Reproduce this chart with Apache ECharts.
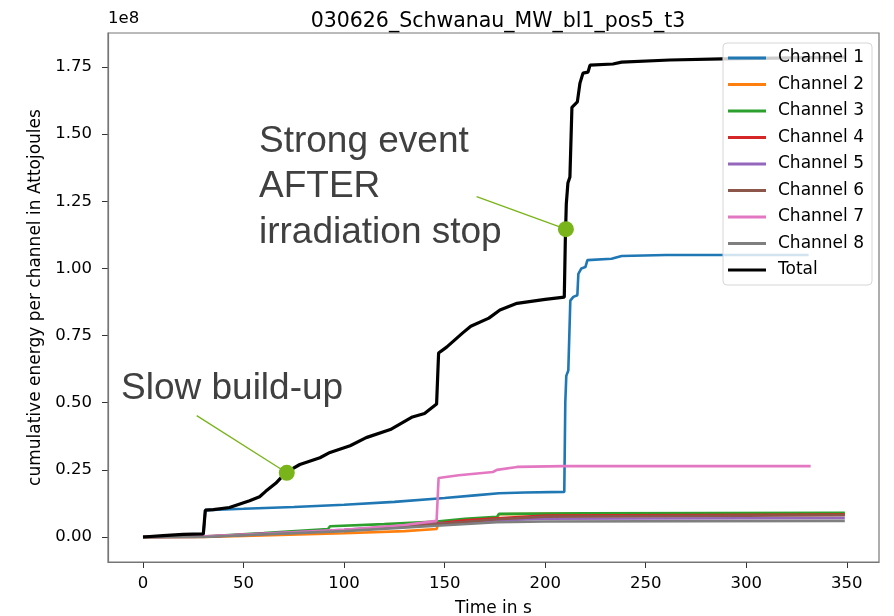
<!DOCTYPE html>
<html>
<head>
<meta charset="utf-8">
<script src="https://cdn.jsdelivr.net/npm/echarts@6/dist/echarts.min.js"></script>
<style>
html,body{margin:0;padding:0;background:#fff;}
#chart{width:894px;height:616px;}
</style>
</head>
<body>
<div id="chart"></div>
<script>
// Values are in units of 1e8 Attojoules (axis offset label "1e8")
var title = '030626_Schwanau_MW_bl1_pos5_t3';
var seriesNames = ['Channel 1','Channel 2','Channel 3','Channel 4','Channel 5','Channel 6','Channel 7','Channel 8','Total'];
var seriesColors = ['#1f77b4','#ff7f0e','#2ca02c','#d62728','#9467bd','#8c564b','#e377c2','#7f7f7f','#000000'];
var xTicks = [0,50,100,150,200,250,300,350];
var yTicks = [0,0.25,0.5,0.75,1.0,1.25,1.5,1.75];

var channel1 = [[0,0],[30,0.003],[31,0.10],[50,0.105],[75,0.112],[100,0.12],[125,0.131],[150,0.145],[165,0.155],[177,0.163],[190,0.166],[209.5,0.168],[210,0.5],[210.5,0.6],[211.5,0.62],[212.5,0.88],[214,0.894],[216,0.90],[216.5,0.98],[218,1.0],[220,1.005],[221,1.031],[233,1.036],[238,1.046],[260,1.05],[331,1.05]];
var channel2 = [[0,0],[30,0],[50,0.004],[100,0.014],[130,0.022],[146,0.03],[147,0.052],[160,0.062],[176,0.07],[177,0.085],[200,0.086],[349,0.087]];
var channel3 = [[0,0],[30,0.002],[60,0.015],[92,0.03],[93,0.04],[120,0.048],[146,0.058],[160,0.068],[176,0.075],[177,0.086],[220,0.088],[349,0.09]];
var channel4 = [[0,0],[30,0.001],[60,0.012],[100,0.025],[146,0.05],[160,0.062],[176,0.07],[200,0.08],[349,0.084]];
var channel5 = [[0,0],[30,0.001],[60,0.013],[100,0.027],[146,0.048],[176,0.062],[200,0.068],[349,0.071]];
var channel6 = [[0,0],[30,0.001],[60,0.011],[100,0.024],[146,0.047],[176,0.066],[200,0.076],[349,0.081]];
var channel7 = [[7,0],[30,0.003],[60,0.012],[100,0.027],[130,0.045],[146,0.06],[147,0.22],[157,0.23],[174,0.242],[176,0.25],[186,0.261],[209,0.264],[332,0.264]];
var channel8 = [[0,0],[30,0],[60,0.01],[100,0.022],[146,0.042],[176,0.055],[200,0.058],[349,0.06]];
var total = [[0,0],[10,0.005],[20,0.01],[30,0.012],[31,0.10],[35,0.102],[43,0.11],[53,0.135],[58,0.15],[61,0.17],[66,0.2],[71,0.24],[78,0.27],[88,0.295],[93,0.315],[103,0.34],[111,0.37],[123,0.40],[134,0.447],[140,0.46],[146,0.495],[147,0.685],[151,0.707],[159,0.76],[163,0.785],[172,0.815],[177.5,0.845],[186,0.87],[200,0.885],[209.5,0.893],[210,1.1],[210.5,1.24],[211.3,1.318],[212.3,1.34],[213.3,1.6],[216,1.62],[217.3,1.69],[218.8,1.727],[221.3,1.731],[222.3,1.757],[233.7,1.761],[238,1.768],[262,1.776],[288,1.78],[349,1.787]];

var annotDots = [[71.5,0.239],[210.3,1.146]];
var annotStarts = [[26.7,0.452],[165.9,1.267]];

var allData = [channel1,channel2,channel3,channel4,channel5,channel6,channel7,channel8,total];
var green = '#78b41a';

var series = allData.map(function(d,i){
  return {
    name: seriesNames[i], type:'line', data:d, symbol:'none', animation:false,
    lineStyle:{width: i===8 ? 3.2 : 2.6, color: seriesColors[i]},
    itemStyle:{color: seriesColors[i]}, z: 2
  };
});
series.push({
  type:'scatter', data: annotDots, symbolSize:16, itemStyle:{color:green, opacity:1}, z:3, silent:true, animation:false,
  markLine:{silent:true, symbol:'none', animation:false, lineStyle:{color:green,width:1.3,type:'solid',opacity:1}, label:{show:false},
    data: annotStarts.map(function(s,i){return [{coord:s},{coord:annotDots[i]}];})}
});

var chart = echarts.init(document.getElementById('chart'), null, {renderer:'canvas'});
var font = 'DejaVu Sans';
chart.setOption({
  backgroundColor:'#fff',
  animation:false,
  title:{text:title, left:493, textAlign:'center', top:6, textStyle:{fontFamily:font,fontSize:20.5,fontWeight:'normal',color:'#000'}},
  grid:{left:108, right:15, top:33, bottom:54, show:false, containLabel:false, outerBoundsMode:'none'},
  legend:{
    orient:'vertical', left:723, top:43, data:seriesNames, z:50,
    icon:'rect', itemWidth:38, itemHeight:3, itemGap:8.5,
    padding:[6,8,6,5],
    backgroundColor:'rgba(255,255,255,0.8)', borderColor:'#d6d6d6', borderWidth:1, borderRadius:4,
    textStyle:{fontFamily:font, fontSize:17, color:'#000', lineHeight:18, padding:[0,0,0,7]}
  },
  xAxis:{
    type:'value', min:-17.4, max:366,
    name:'Time in s', nameLocation:'middle', nameGap:38,
    nameTextStyle:{fontFamily:font,fontSize:17,color:'#000'},
    axisLine:{show:true,onZero:false,lineStyle:{color:'#777',width:1.2}},
    axisTick:{show:true,length:6,customValues:xTicks,lineStyle:{color:'#333'}},
    axisLabel:{customValues:xTicks,margin:13,fontFamily:font,fontSize:16.5,color:'#000'},
    splitLine:{show:false}
  },
  yAxis:{
    type:'value', min:-0.093, max:1.8765,
    name:'cumulative energy per channel in Attojoules', nameLocation:'middle', nameGap:58, nameRotate:90,
    nameTextStyle:{fontFamily:font,fontSize:17,color:'#000'},
    axisLine:{show:true,onZero:false,lineStyle:{color:'#777',width:1.2}},
    axisTick:{show:true,length:6,customValues:yTicks,lineStyle:{color:'#333'}},
    axisLabel:{customValues:yTicks,margin:16,fontFamily:font,fontSize:16.5,color:'#000',
      formatter:function(v){return v.toFixed(2);}},
    splitLine:{show:false}
  },
  graphic:[
    {type:'rect', shape:{x:108,y:33,width:771,height:529}, style:{fill:'none',stroke:'#777',lineWidth:1.2}, silent:true, z:1},
    {type:'text', left:108, top:10, style:{text:'1e8', fontFamily:font, fontSize:16.5, fill:'#000'}},
    {type:'text', left:259, top:119, style:{text:'Strong event\nAFTER\nirradiation stop', fontFamily:'Liberation Sans', fontSize:37, lineHeight:45.5, fill:'#404040'}, z:30},
    {type:'text', left:121, top:370, style:{text:'Slow build-up', fontFamily:'Liberation Sans', fontSize:37, fill:'#404040'}, z:30}
  ],
  series:series
});
</script>
</body>
</html>
